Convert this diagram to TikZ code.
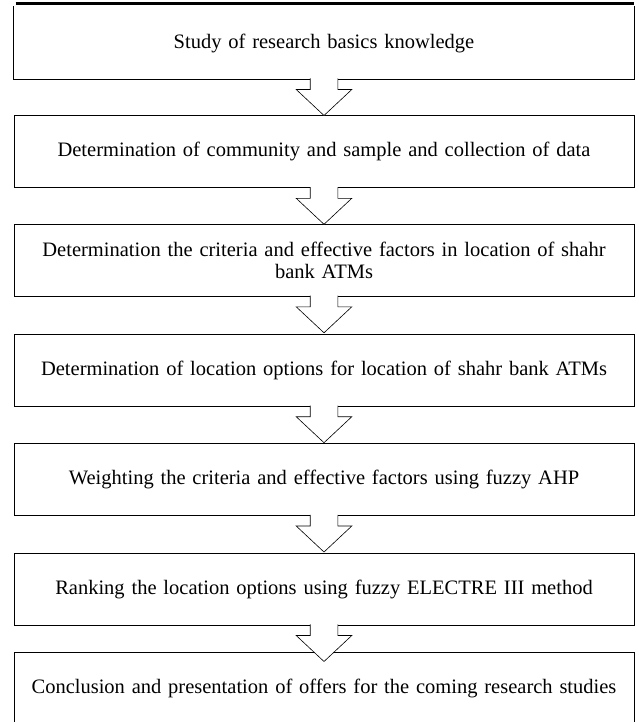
\documentclass[tikz,border=0pt]{standalone}
\usepackage{fontspec}
\setmainfont[WordSpace=0.8]{Liberation Serif}
\usetikzlibrary{calc}
\begin{document}
\begin{tikzpicture}[x=1pt,y=-1pt,
  box/.style={draw=black,line width=1pt,minimum width=620pt,minimum height=72pt,
    inner sep=0pt,align=center,text width=616pt,font=\fontsize{20.5}{21.5}\selectfont},
  openbox/.style={box,draw=none},
  blockarrow/.style={fill=white,draw=black,line width=0.6pt,line join=miter}]
\useasboundingbox (0,0) rectangle (638,722);
\clip (0,0) rectangle (638,722);
\node[openbox] (b1) at (324,43) {Study of research basics knowledge};
\node[box] (b2) at (324,151.8) {Determination of community and sample and collection of data};
\node[box] (b3) at (324,260.3) {Determination the criteria and effective factors in location of shahr\\bank ATMs};
\node[box] (b4) at (324,370.2) {Determination of location options for location of shahr bank ATMs};
\node[box] (b5) at (324,479.5) {Weighting the criteria and effective factors using fuzzy AHP};
\node[box] (b6) at (324,589) {Ranking the location options using fuzzy ELECTRE III method};
\node[box] (b7) at (324,688.5) {Conclusion and presentation of offers for the coming research studies};
\draw[line width=1pt] (b1.north west) -- (b1.south west) -- (b1.south east) -- (b1.north east);
\draw[line width=2.5pt] ($(b1.north west)+(2,-3)$) -- ($(b1.north east)+(-1,-3)$);
\foreach \a in {b1,b2,b3,b4,b5,b6}{
  \filldraw[blockarrow] ($(\a.south)+(-13.8,-1.2)$) -- ($(\a.south)+(-13.8,10)$)
    -- ($(\a.south)+(-27.8,10)$) -- ($(\a.south)+(0,36)$) -- ($(\a.south)+(27.8,10)$)
    -- ($(\a.south)+(13.8,10)$) -- ($(\a.south)+(13.8,-1.2)$);
}
\end{tikzpicture}
\end{document}
